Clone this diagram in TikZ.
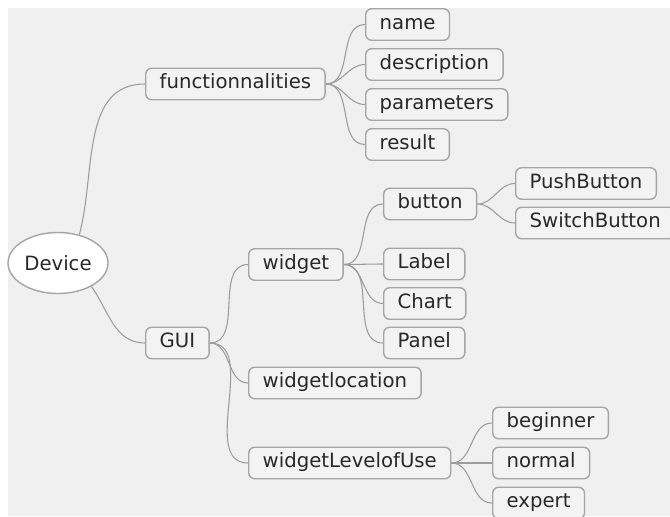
\documentclass[tikz,border=0pt]{standalone}
\usepackage{fontspec}
\setmainfont{DejaVu Sans}
\usetikzlibrary{shapes.geometric}

\definecolor{canvas}{RGB}{240,240,240}
\definecolor{boxfill}{RGB}{243,243,243}
\definecolor{frame}{RGB}{165,165,165}
\definecolor{link}{RGB}{155,155,155}
\definecolor{ink}{RGB}{40,40,40}

\tikzset{
  topic/.style={draw=frame, line width=0.8pt, fill=boxfill, rounded corners=0.12cm,
    anchor=west, inner xsep=0.28cm, inner ysep=0pt, minimum height=0.63cm,
    text height=0.75em, text depth=0.2em, text=ink, font=\fontsize{11.2}{13}\selectfont},
  root/.style={draw=frame, line width=0.8pt, fill=white, ellipse, minimum width=2cm,
    minimum height=1.22cm, inner sep=0pt, text=ink, font=\fontsize{11.2}{13}\selectfont},
  branch/.style={draw=link, line width=0.6pt}
}

\begin{document}
\begin{tikzpicture}

    \useasboundingbox (0,0) rectangle (13.4,10.32);
    \fill[canvas] (0.16,0) rectangle (13.4,10.16);

    \node[root] (device) at (1.16,5.06) {Device};

    \node[topic] (func) at (2.9,8.64) {functionnalities};
    \node[topic] (gui)  at (2.9,3.46) {GUI};

    \node[topic] (name)   at (7.3,9.83) {name};
    \node[topic] (descr)  at (7.3,9.03) {description};
    \node[topic] (params) at (7.3,8.23) {parameters};
    \node[topic] (result) at (7.3,7.43) {result};

    \node[topic] (widget)   at (4.96,5.03) {widget};
    \node[topic] (location) at (4.96,2.66) {widgetlocation};
    \node[topic] (level)    at (4.96,1.06) {widgetLevelofUse};

    \node[topic] (button) at (7.66,6.24) {button};
    \node[topic] (label)  at (7.66,5.04) {Label};
    \node[topic] (chart)  at (7.66,4.25) {Chart};
    \node[topic] (panel)  at (7.66,3.46) {Panel};

    \node[topic] (push)   at (10.3,6.65) {PushButton};
    \node[topic] (switch) at (10.3,5.86) {SwitchButton};

    \node[topic] (beginner) at (9.84,1.86) {beginner};
    \node[topic] (normal)   at (9.84,1.06) {normal};
    \node[topic] (expert)   at (9.84,0.26) {expert};

    \draw[branch] (device.53) to[out=75,in=180] (func.west);
    \draw[branch] (device.-35) to[out=-55,in=180] (gui.west);

    \draw[branch] (func.east) to[out=0,in=180] (name.west);
    \draw[branch] (func.east) to[out=0,in=180] (descr.west);
    \draw[branch] (func.east) to[out=0,in=180] (params.west);
    \draw[branch] (func.east) to[out=0,in=180] (result.west);

    \draw[branch] (gui.east) to[out=0,in=180] (widget.west);
    \draw[branch] (gui.east) to[out=0,in=180] (location.west);
    \draw[branch] (gui.east) to[out=0,in=180] (level.west);

    \draw[branch] (widget.east) to[out=0,in=180] (button.west);
    \draw[branch] (widget.east) to[out=0,in=180] (label.west);
    \draw[branch] (widget.east) to[out=0,in=180] (chart.west);
    \draw[branch] (widget.east) to[out=0,in=180] (panel.west);

    \draw[branch] (button.east) to[out=0,in=180] (push.west);
    \draw[branch] (button.east) to[out=0,in=180] (switch.west);

    \draw[branch] (level.east) to[out=0,in=180] (beginner.west);
    \draw[branch] (level.east) to[out=0,in=180] (normal.west);
    \draw[branch] (level.east) to[out=0,in=180] (expert.west);

\end{tikzpicture}
\end{document}
